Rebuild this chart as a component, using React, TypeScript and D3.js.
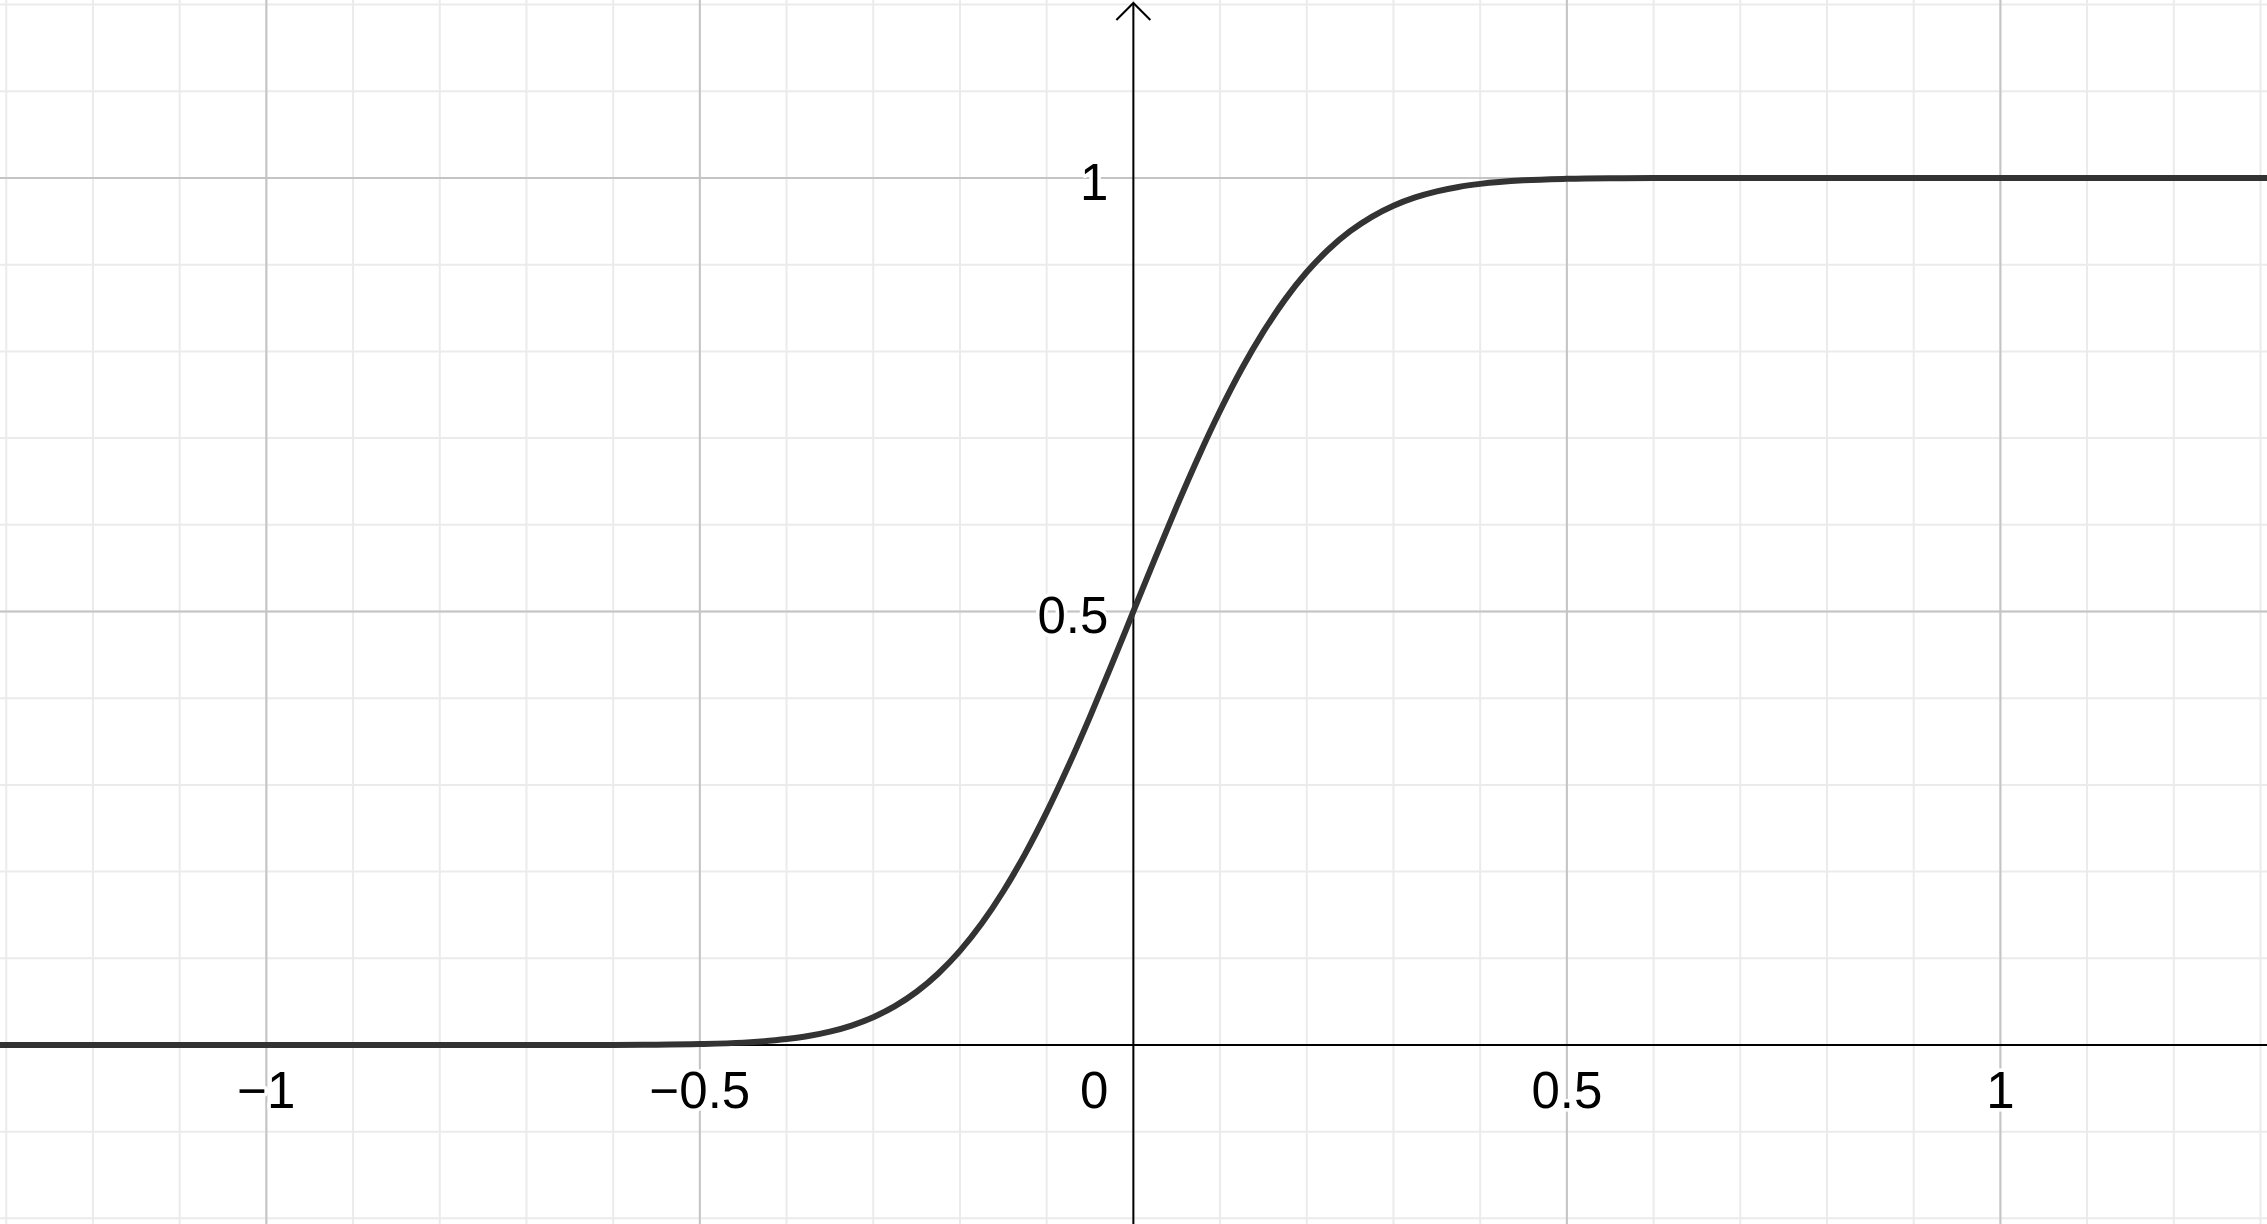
import React from "react";
import * as d3 from "d3";

const W = 2267;
const H = 1224;

// visible window (math units)
const xDomain = [-1.3072, 1.3075];
const yDomain = [-0.2065, 1.2053];

// tick labels
const xTicks = [-1, -0.5, 0.5, 1];
const xTickLabels = ["\u22121", "\u22120.5", "0.5", "1"];
const yTicks = [0.5, 1];
const yTickLabels = ["0.5", "1"];
const originLabel = "0";

// curve points
const curveX = [
  -1.35, -1.0, -0.6, -0.55, -0.5, -0.45, -0.4, -0.375, -0.35, -0.325, -0.3, -0.275, -0.25, -0.225, -0.2,
  -0.175, -0.15, -0.125, -0.1, -0.075, -0.05, -0.025, 0, 0.025, 0.05, 0.075, 0.1,
  0.125, 0.15, 0.175, 0.2, 0.225, 0.25, 0.275, 0.3, 0.325, 0.35, 0.375, 0.4, 0.45, 0.5, 0.55, 0.6, 1.0, 1.35,
];
const curveY = [
  0, 0, 0.0001, 0.0003, 0.001, 0.0027, 0.0068, 0.0103, 0.0154, 0.0224, 0.032, 0.0448, 0.0614, 0.0825, 0.1085,
  0.14, 0.1773, 0.2201, 0.2685, 0.3217, 0.3788, 0.4387, 0.5, 0.5613, 0.6212, 0.6783, 0.7315,
  0.7799, 0.8227, 0.86, 0.8915, 0.9175, 0.9386, 0.9552, 0.968, 0.9776, 0.9846, 0.9897, 0.9932, 0.9973, 0.999, 0.9997, 0.9999, 1, 1,
];

const minorX = d3.range(-13, 14).map((i) => i / 10);
const minorY = d3.range(-2, 13).map((i) => i / 10);
const majorX = [-1, -0.5, 0.5, 1];
const majorY = [0.5, 1];

export default function App() {
  const x = d3.scaleLinear().domain(xDomain).range([0, W]);
  const y = d3.scaleLinear().domain(yDomain).range([H, 0]);
  const pts = curveX.map((v, i) => [v, curveY[i]] as [number, number]);
  const line = d3
    .line<[number, number]>()
    .x((d) => x(d[0]))
    .y((d) => y(d[1]))
    .curve(d3.curveMonotoneX);
  const x0 = x(0);
  const y0 = y(0);
  const font = "'Liberation Sans', Arial, sans-serif";
  const fs = 51;
  const halo = {
    stroke: "#ffffff",
    strokeWidth: 7,
    paintOrder: "stroke" as const,
    strokeLinejoin: "round" as const,
  };

  return (
    <svg
      width={W}
      height={H}
      style={{ position: "fixed", left: 0, top: 0, background: "#ffffff" }}
    >
      <rect x={0} y={0} width={W} height={H} fill="#ffffff" />
      {/* minor grid */}
      <g stroke="#ebebeb" strokeWidth={2}>
        {minorX.map((v) => (
          <line key={"mx" + v} x1={x(v)} x2={x(v)} y1={0} y2={H} />
        ))}
        {minorY.map((v) => (
          <line key={"my" + v} x1={0} x2={W} y1={y(v)} y2={y(v)} />
        ))}
      </g>
      {/* major grid */}
      <g stroke="#c4c4c4" strokeWidth={2}>
        {majorX.map((v) => (
          <line key={"Mx" + v} x1={x(v)} x2={x(v)} y1={0} y2={H} />
        ))}
        {majorY.map((v) => (
          <line key={"My" + v} x1={0} x2={W} y1={y(v)} y2={y(v)} />
        ))}
      </g>
      {/* axes */}
      <g stroke="#000000" strokeWidth={2} fill="none">
        <line x1={0} x2={W} y1={y0} y2={y0} />
        <line x1={x0} x2={x0} y1={3} y2={H} />
        <polyline points={`${x0 - 17},20 ${x0},3 ${x0 + 17},20`} strokeLinejoin="miter" />
      </g>
      {/* curve */}
      <path
        d={line(pts) || ""}
        fill="none"
        stroke="#333333"
        strokeWidth={6}
        strokeLinecap="round"
        strokeLinejoin="round"
      />
      {/* labels */}
      <g fontFamily={font} fontSize={fs} fill="#000000">
        {xTicks.map((v, i) => (
          <text key={"xl" + v} x={x(v)} y={y0 + 63} textAnchor="middle" {...halo}>
            {xTickLabels[i]}
          </text>
        ))}
        <text x={x0 - 25} y={y0 + 63} textAnchor="end" {...halo}>
          {originLabel}
        </text>
        {yTicks.map((v, i) => (
          <text key={"yl" + v} x={x0 - 25} y={y(v) + 22} textAnchor="end" {...halo}>
            {yTickLabels[i]}
          </text>
        ))}
      </g>
    </svg>
  );
}
